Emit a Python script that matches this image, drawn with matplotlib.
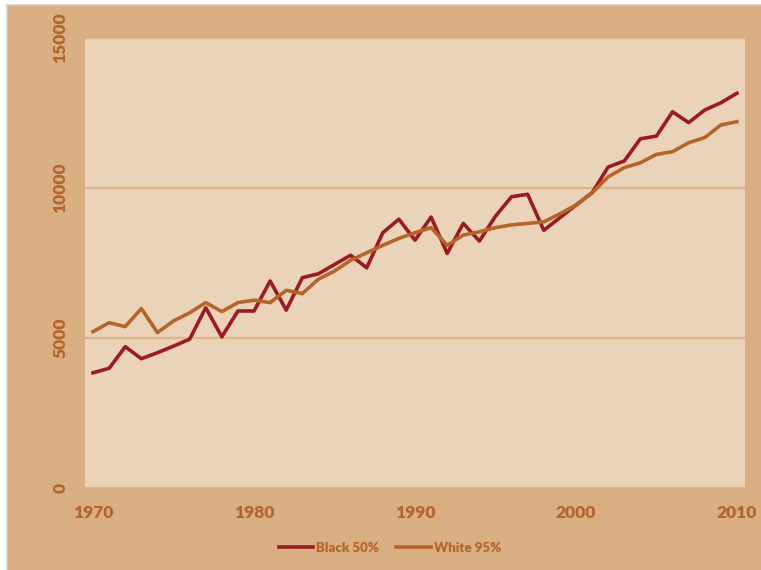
import matplotlib
matplotlib.use("Agg")
import matplotlib.pyplot as plt
from matplotlib.patches import Rectangle

years = list(range(1970, 2011))
black_50 = [3840, 3990, 4710, 4310, 4510, 4730, 4960, 6010, 5040, 5900,
            5900, 6900, 5930, 7010, 7140, 7450, 7760, 7340, 8510, 8960,
            8260, 9030, 7820, 8820, 8230, 9060, 9710, 9790, 8590, 9010,
            9430, 9840, 10700, 10900, 11640, 11730, 12540, 12180, 12600, 12840,
            13160]
white_95 = [5210, 5510, 5380, 5980, 5180, 5570, 5840, 6180, 5880, 6180,
            6260, 6180, 6590, 6480, 6960, 7230, 7590, 7840, 8090, 8320,
            8510, 8680, 8090, 8430, 8540, 8680, 8770, 8820, 8870, 9140,
            9430, 9840, 10370, 10680, 10840, 11120, 11210, 11510, 11680, 12100,
            12210]
x_ticks = [1970, 1980, 1990, 2000, 2010]
y_ticks = [0, 5000, 10000, 15000]

tan = "#D8AE82"
panel = "#EAD3B8"
grid_col = "#DEB68D"
txt = "#B5652A"
red = "#9A1B22"
orange = "#B5652A"

plt.rcParams['font.family'] = ['Lato', 'DejaVu Sans']

fig = plt.figure(figsize=(7.61, 5.70), dpi=100, facecolor="white")
# outer tan frame, grey border only visible on left/top
fig.patches.append(Rectangle((6.5 / 761, -0.05), 1.1, 1.05 - 5.5 / 570,
                             transform=fig.transFigure, facecolor=tan,
                             edgecolor="#D0D0D0", linewidth=1.2, zorder=-10))

ax = fig.add_axes([85 / 761, 1 - 488 / 570, 660 / 761, 450 / 570])
ax.set_facecolor(panel)
ax.plot(years, black_50, color=red, lw=2.6, label="Black 50%", zorder=3)
ax.plot(years, white_95, color=orange, lw=2.6, label="White 95%", zorder=3)

ax.set_xlim(1969.5, 2010.5)
ax.set_ylim(0, 15000)
ax.set_xticks(x_ticks)
ax.set_yticks(y_ticks)
ax.set_xticklabels([str(v) for v in x_ticks], fontsize=12.5, fontweight=800, color=txt)
ax.set_yticklabels([str(v) for v in y_ticks], fontsize=12.5, fontweight=800, color=txt,
                   rotation=90, va="center")
ax.tick_params(axis="both", length=0)
ax.tick_params(axis="x", pad=12)
ax.tick_params(axis="y", pad=12)
ax.grid(axis="y", color=grid_col, lw=1.6)
ax.set_axisbelow(True)
for s in ax.spines.values():
    s.set_visible(False)

fig.legend(loc="center", bbox_to_anchor=(390 / 761, 22 / 570), ncol=2, frameon=False,
           handlelength=2.6, columnspacing=1.3, handletextpad=0.25,
           prop={"size": 9.5, "weight": 800}, labelcolor=txt)

fig.savefig("out.png", dpi=100, facecolor=fig.get_facecolor())
